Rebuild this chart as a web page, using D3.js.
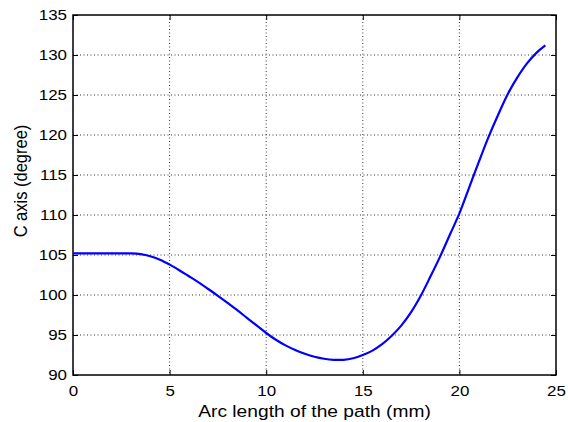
<!DOCTYPE html>
<html><head><meta charset="utf-8">
<script src="https://cdn.jsdelivr.net/npm/d3@7"></script>
<style>body{margin:0;background:#fff}svg{display:block}text{font-family:"Liberation Sans",Arial,sans-serif;fill:#000}</style>
</head><body>
<svg id="c" width="568" height="422"></svg>
<script>
const arcLength = [0,1,2,2.5,3,3.5,4,4.5,5,5.5,6,6.5,7,7.5,8,8.5,9,9.5,10,10.5,11,11.5,12,12.5,13,13.5,14,14.5,15,15.5,16,16.5,17,17.5,18,18.5,19,19.5,20,20.5,21,21.5,22,22.5,23,23.5,24,24.45];
const cAxis = [105.2,105.2,105.2,105.2,105.2,105.11,104.85,104.41,103.8,103.1,102.35,101.58,100.75,99.9,99.02,98.1,97.15,96.2,95.25,94.4,93.7,93.12,92.65,92.28,92.03,91.9,91.9,92.1,92.5,93.05,93.85,94.9,96.2,97.85,99.9,102.3,104.8,107.5,110.2,113.4,116.6,119.7,122.5,125.1,127.2,128.95,130.3,131.2];
const xTicks = [0,5,10,15,20,25];
const yTicks = [90,95,100,105,110,115,120,125,130,135];

const L=73,R=556,T=15,B=375;
const SX=1.13;
const svg=d3.select("#c");
const x=d3.scaleLinear().domain([0,25]).range([L,R]);
const y=d3.scaleLinear().domain([90,135]).range([B,T]);

const grid=svg.append("g").attr("stroke","#000").attr("stroke-width",0.8).attr("stroke-dasharray","1,2.5");
grid.selectAll("line.gx").data(xTicks.slice(1,-1)).enter().append("line")
  .attr("x1",d=>x(d)).attr("x2",d=>x(d)).attr("y1",T).attr("y2",B);
grid.selectAll("line.gy").data(yTicks.slice(1,-1)).enter().append("line")
  .attr("y1",d=>y(d)).attr("y2",d=>y(d)).attr("x1",L).attr("x2",R);

const fmt=d3.format("d");
const ax=(g)=>{g.selectAll(".domain").remove();g.selectAll("line").attr("stroke","#000");
  g.selectAll("text").style("font-size","15px").attr("transform",function(){const xx=+d3.select(this).attr("x")||0;return `translate(${xx*(1-SX)},0) scale(${SX},1)`;});};
svg.append("g").attr("transform",`translate(0,${B})`).call(d3.axisBottom(x).tickValues(xTicks).tickFormat(fmt).tickSizeInner(-5).tickSizeOuter(0).tickPadding(10)).call(ax);
svg.append("g").attr("transform",`translate(0,${T})`).call(d3.axisTop(x).tickValues(xTicks).tickFormat("").tickSizeInner(-5).tickSizeOuter(0)).call(ax);
svg.append("g").attr("transform",`translate(${L},0)`).call(d3.axisLeft(y).tickValues(yTicks).tickFormat(fmt).tickSizeInner(-5).tickSizeOuter(0).tickPadding(6)).call(ax);
svg.append("g").attr("transform",`translate(${R},0)`).call(d3.axisRight(y).tickValues(yTicks).tickFormat("").tickSizeInner(-5).tickSizeOuter(0)).call(ax);

svg.append("rect").attr("x",L).attr("y",T).attr("width",R-L).attr("height",B-T).attr("fill","none").attr("stroke","#000").attr("stroke-width",1.5);

const line=d3.line().x((d,i)=>x(arcLength[i])).y(d=>y(d)).curve(d3.curveCatmullRom);
svg.append("path").datum(cAxis).attr("d",line).attr("fill","none").attr("stroke","#0000ff").attr("stroke-width",2.2);

svg.append("text").attr("transform",`translate(${(L+R)/2},417) scale(${SX},1)`).attr("text-anchor","middle").style("font-size","17px").text("Arc length of the path (mm)");
svg.append("text").attr("transform",`translate(27,181) scale(${SX},1) rotate(-90)`).attr("text-anchor","middle").style("font-size","16.5px").text("C axis (degree)");
</script>
</body></html>
